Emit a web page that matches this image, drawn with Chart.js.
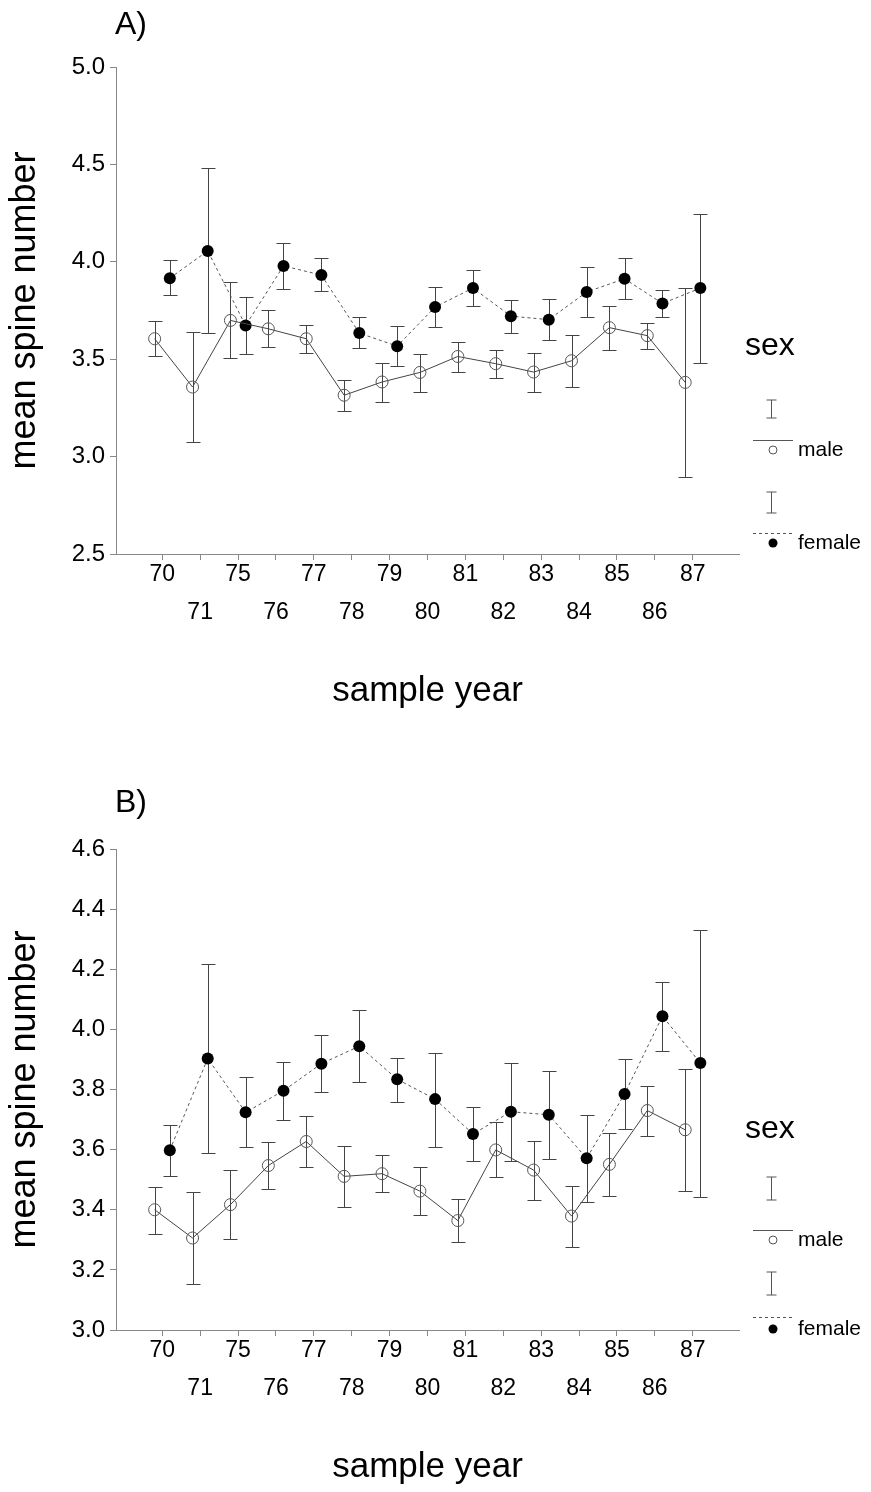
<!DOCTYPE html>
<html>
<head>
<meta charset="utf-8">
<script src="https://cdn.jsdelivr.net/npm/chart.js@4.4.1/dist/chart.umd.min.js"></script>
<style>
  html, body { margin: 0; padding: 0; background: #fff; }
  .panel { position: absolute; left: 0; width: 871px; height: 716px; }
  #panelA { top: 0; }
  #panelB { top: 776px; }
</style>
</head>
<body>
<div class="panel" id="panelA"><canvas id="chartA" width="871" height="716"></canvas></div>
<div class="panel" id="panelB"><canvas id="chartB" width="871" height="716"></canvas></div>

<script>
// --- DATA ---
const years = ['70', '71', '75', '76', '77', '78', '79', '80', '81', '82', '83', '84', '85', '86', '87'];

// Panel A
const yTicksA = [2.5, 3.0, 3.5, 4.0, 4.5, 5.0];
const maleMeanA = [3.605, 3.357, 3.699, 3.656, 3.605, 3.315, 3.383, 3.432, 3.514, 3.477, 3.434, 3.492, 3.662, 3.621, 3.381];
const maleHiA   = [3.694, 3.640, 3.894, 3.752, 3.677, 3.395, 3.479, 3.526, 3.590, 3.545, 3.532, 3.624, 3.771, 3.684, 3.863];
const maleLoA   = [3.518, 3.075, 3.506, 3.564, 3.533, 3.236, 3.282, 3.333, 3.436, 3.402, 3.333, 3.359, 3.545, 3.552, 2.896];
const femaleMeanA = [3.916, 4.056, 3.673, 3.979, 3.932, 3.634, 3.567, 3.768, 3.865, 3.721, 3.703, 3.845, 3.913, 3.786, 3.865];
const femaleHiA   = [4.007, 4.484, 3.821, 4.099, 4.017, 3.715, 3.670, 3.870, 3.959, 3.805, 3.809, 3.974, 4.017, 3.855, 4.246];
const femaleLoA   = [3.829, 3.633, 3.526, 3.860, 3.848, 3.557, 3.465, 3.667, 3.773, 3.636, 3.598, 3.716, 3.809, 3.718, 3.482];

// Panel B
const yTicksB = [3.0, 3.2, 3.4, 3.6, 3.8, 4.0, 4.2, 4.4, 4.6];
const maleMeanB = [3.400, 3.306, 3.417, 3.547, 3.627, 3.511, 3.520, 3.462, 3.364, 3.599, 3.532, 3.379, 3.551, 3.730, 3.666];
const maleHiB   = [3.477, 3.460, 3.532, 3.626, 3.711, 3.611, 3.582, 3.543, 3.435, 3.692, 3.629, 3.479, 3.655, 3.812, 3.869];
const maleLoB   = [3.320, 3.153, 3.302, 3.469, 3.541, 3.409, 3.459, 3.382, 3.292, 3.508, 3.433, 3.277, 3.446, 3.646, 3.462];
const femaleMeanB = [3.598, 3.903, 3.724, 3.796, 3.886, 3.944, 3.834, 3.768, 3.652, 3.726, 3.716, 3.571, 3.785, 4.044, 3.888];
const femaleHiB   = [3.682, 4.217, 3.840, 3.892, 3.980, 4.063, 3.904, 3.921, 3.741, 3.888, 3.861, 3.714, 3.902, 4.157, 4.332];
const femaleLoB   = [3.512, 3.590, 3.609, 3.699, 3.793, 3.826, 3.760, 3.610, 3.562, 3.562, 3.568, 3.425, 3.669, 3.929, 3.444];

const FONT = '"Liberation Sans", Arial, Helvetica, sans-serif';
const SHIFT = 0.2; // male left of tick, female right of tick

// --- PLUGINS ---
// error bars drawn through the chart's own scales
const errorBars = {
    id: 'errorBars',
    beforeDatasetsDraw(chart) {
        const { ctx, scales: { x, y } } = chart;
        chart.data.datasets.forEach(ds => {
            if (!ds.errLo) return;
            ctx.save();
            ctx.strokeStyle = '#444';
            ctx.lineWidth = 1;
            ds.data.forEach((p, i) => {
                const px = Math.round(x.getPixelForValue(p.x)) + 0.5;
                const top = Math.round(y.getPixelForValue(ds.errHi[i])) + 0.5;
                const bot = Math.round(y.getPixelForValue(ds.errLo[i])) + 0.5;
                ctx.beginPath();
                ctx.moveTo(px, top); ctx.lineTo(px, bot);
                ctx.moveTo(px - 7, top); ctx.lineTo(px + 7, top);
                ctx.moveTo(px - 7, bot); ctx.lineTo(px + 7, bot);
                ctx.stroke();
            });
            ctx.restore();
        });
    }
};

// panel letter + "sex" legend on the right
const sexLegend = {
    id: 'sexLegend',
    afterDraw(chart, args, o) {
        const ctx = chart.ctx;
        ctx.save();
        ctx.fillStyle = '#000';
        ctx.textBaseline = 'alphabetic';
        ctx.font = '32px ' + FONT;
        ctx.fillText(o.letter, 115, o.letterY);
        ctx.fillText('sex', 745, o.sexY);

        ctx.strokeStyle = '#555';
        ctx.lineWidth = 1;
        const bx = 771.5;
        [o.bar1, o.bar2].forEach(b => {
            ctx.beginPath();
            ctx.moveTo(bx, b[0]); ctx.lineTo(bx, b[1]);
            ctx.moveTo(bx - 5, b[0]); ctx.lineTo(bx + 5, b[0]);
            ctx.moveTo(bx - 5, b[1]); ctx.lineTo(bx + 5, b[1]);
            ctx.stroke();
        });

        // male: solid line + open circle
        ctx.beginPath();
        ctx.moveTo(753, o.line1 + 0.5); ctx.lineTo(793, o.line1 + 0.5);
        ctx.stroke();
        ctx.beginPath();
        ctx.arc(773, o.dot1, 4, 0, Math.PI * 2);
        ctx.stroke();

        // female: dashed line + filled circle
        ctx.setLineDash([3, 3]);
        ctx.beginPath();
        ctx.moveTo(753, o.line2 + 0.5); ctx.lineTo(793, o.line2 + 0.5);
        ctx.stroke();
        ctx.setLineDash([]);
        ctx.beginPath();
        ctx.arc(773, o.dot2, 4.5, 0, Math.PI * 2);
        ctx.fill();

        ctx.font = '21px ' + FONT;
        ctx.textBaseline = 'middle';
        ctx.fillText('male', 798, o.dot1);
        ctx.fillText('female', 798, o.dot2);
        ctx.restore();
    }
};

// --- CHART BUILDER ---
function makePanel(canvasId, p) {
    const ctx = document.getElementById(canvasId).getContext('2d');
    return new Chart(ctx, {
        type: 'line',
        data: {
            datasets: [
                {
                    label: 'male',
                    data: p.maleMean.map((v, i) => ({ x: i - SHIFT, y: v })),
                    errLo: p.maleLo,
                    errHi: p.maleHi,
                    borderColor: '#444',
                    borderWidth: 1,
                    pointRadius: 6,
                    pointBorderWidth: 1,
                    pointBorderColor: '#555',
                    pointBackgroundColor: 'rgba(0,0,0,0)',
                    tension: 0
                },
                {
                    label: 'female',
                    data: p.femaleMean.map((v, i) => ({ x: i + SHIFT, y: v })),
                    errLo: p.femaleLo,
                    errHi: p.femaleHi,
                    borderColor: '#555',
                    borderWidth: 1,
                    borderDash: [3, 3],
                    pointRadius: 6,
                    pointBorderWidth: 0,
                    pointBackgroundColor: '#000',
                    pointBorderColor: '#000',
                    tension: 0
                }
            ]
        },
        options: {
            responsive: false,
            animation: false,
            devicePixelRatio: 1,
            layout: { padding: { top: p.top, right: 132, bottom: 0, left: 0 } },
            plugins: {
                legend: { display: false },
                tooltip: { enabled: false },
                sexLegend: p.legend
            },
            scales: {
                x: {
                    type: 'linear',
                    min: -1.22,
                    max: 15.22,
                    afterBuildTicks: s => { s.ticks = years.map((_, i) => ({ value: i })); },
                    afterFit: s => { s.height = 162; },
                    grid: { drawOnChartArea: false, drawTicks: true, tickLength: 6, color: '#888' },
                    border: { display: true, color: '#888', width: 1 },
                    ticks: {
                        autoSkip: false,
                        maxRotation: 0,
                        padding: -4,
                        color: '#000',
                        font: { family: FONT, size: 23, lineHeight: 1.65 },
                        callback: v => {
                            const i = Math.round(v);
                            if (i < 0 || i >= years.length) return '';
                            return i % 2 === 0 ? [years[i], ''] : ['', years[i]];
                        }
                    },
                    title: {
                        display: true,
                        text: 'sample year',
                        color: '#000',
                        font: { family: FONT, size: 35 },
                        padding: { top: 0, bottom: 4 }
                    }
                },
                y: {
                    min: p.yTicks[0],
                    max: p.yTicks[p.yTicks.length - 1],
                    afterBuildTicks: s => { s.ticks = p.yTicks.map(v => ({ value: v })); },
                    afterFit: s => { s.width = 116; },
                    grid: { drawOnChartArea: false, drawTicks: true, tickLength: 6, color: '#888' },
                    border: { display: true, color: '#888', width: 1 },
                    ticks: {
                        padding: 5,
                        color: '#000',
                        font: { family: FONT, size: 24 },
                        callback: v => Number(v).toFixed(1)
                    },
                    title: {
                        display: true,
                        text: 'mean spine number',
                        color: '#000',
                        font: { family: FONT, size: 36 },
                        padding: { top: 3, bottom: 0 }
                    }
                }
            }
        },
        plugins: [errorBars, sexLegend]
    });
}

// --- INITIALIZATION ---
document.addEventListener('DOMContentLoaded', () => {
    makePanel('chartA', {
        top: 67,
        yTicks: yTicksA,
        maleMean: maleMeanA, maleLo: maleLoA, maleHi: maleHiA,
        femaleMean: femaleMeanA, femaleLo: femaleLoA, femaleHi: femaleHiA,
        legend: { letter: 'A)', letterY: 34, sexY: 355, bar1: [400, 418], line1: 440, dot1: 450, bar2: [492, 513], line2: 533, dot2: 543 }
    });

    makePanel('chartB', {
        top: 73,
        yTicks: yTicksB,
        maleMean: maleMeanB, maleLo: maleLoB, maleHi: maleHiB,
        femaleMean: femaleMeanB, femaleLo: femaleLoB, femaleHi: femaleHiB,
        legend: { letter: 'B)', letterY: 36, sexY: 362, bar1: [401, 424], line1: 454, dot1: 464, bar2: [496, 519], line2: 541, dot2: 553 }
    });
});
</script>
</body>
</html>
